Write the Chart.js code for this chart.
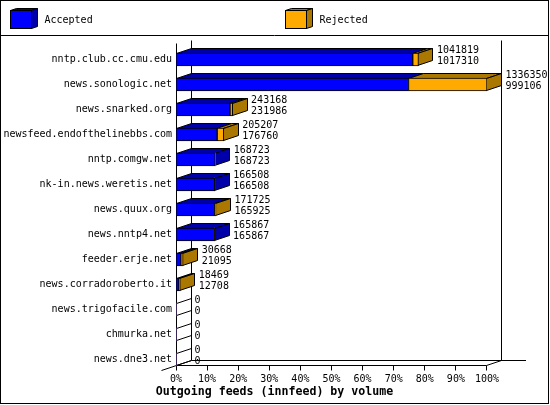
<!DOCTYPE html>
<html><head><meta charset="utf-8">
<script src="https://cdn.jsdelivr.net/npm/chart.js@4"></script>
<style>html,body{margin:0;padding:0;background:#fff}canvas{display:block}</style>
</head><body><canvas id="c" width="550" height="405"></canvas>
<script>
const categories=['nntp.club.cc.cmu.edu','news.sonologic.net','news.snarked.org','newsfeed.endofthelinebbs.com','nntp.comgw.net','nk-in.news.weretis.net','news.quux.org','news.nntp4.net','feeder.erje.net','news.corradoroberto.it','news.trigofacile.com','chmurka.net','news.dne3.net'];
const totals=[1041819,1336350,243168,205207,168723,166508,171725,165867,30668,18469,0,0,0];
const accepted=[1017310,999106,231986,176760,168723,166508,165925,165867,21095,12708,0,0,0];
const rejected=totals.map((t,i)=>t-accepted[i]);
const seriesNames=['Accepted','Rejected'];
const xTickLabels=['0%','10%','20%','30%','40%','50%','60%','70%','80%','90%','100%'];
const titleText='Outgoing feeds (innfeed) by volume';
const C={acc:'#0000ff',accD:'#0000aa',rej:'#ffaa00',rejD:'#aa7700'};
const DX=15,DY=-5;
const MONO='"DejaVu Sans Mono"';
function poly(ctx,pts,fill){ctx.beginPath();pts.forEach((p,i)=>i?ctx.lineTo(p[0],p[1]):ctx.moveTo(p[0],p[1]));ctx.closePath();if(fill){ctx.fillStyle=fill;ctx.fill();}ctx.stroke();}
function line(ctx,a,b,c,d){ctx.beginPath();ctx.moveTo(a,b);ctx.lineTo(c,d);ctx.stroke();}
const frame={id:'frame',beforeDatasetsDraw(chart){
  const ctx=chart.ctx,xs=chart.scales.x;ctx.save();ctx.strokeStyle='#000';ctx.lineWidth=1;
  // outer border and legend
  ctx.strokeRect(0.5,0.5,548,403);line(ctx,0,35.5,549,35.5);
  [[10,C.acc,C.accD,44.5],[285,C.rej,C.rejD,319.5]].forEach((l,i)=>{
    const x=l[0]+.5,y=10.5,w=21,h=18;
    poly(ctx,[[x,y],[x+6,y-2],[x+w+6,y-2],[x+w,y]],l[2]);
    poly(ctx,[[x+w,y],[x+w+6,y-2],[x+w+6,y+h-2],[x+w,y+h]],l[2]);
    ctx.fillStyle=l[1];ctx.fillRect(x,y,w,h);ctx.strokeRect(x,y,w,h);
    ctx.fillStyle='#000';ctx.font='10px '+MONO;ctx.textAlign='left';ctx.textBaseline='middle';ctx.fillText(seriesNames[i],l[3],20);
  });
  // title
  ctx.fillStyle='#000';ctx.font='bold 11.6px '+MONO;ctx.textAlign='center';ctx.textBaseline='middle';ctx.fillText(titleText,274.5,392);
  // 3-D axis frame
  const L=xs.getPixelForValue(0),R=xs.getPixelForValue(xs.max)-1,top=40.5,back=360.5,front=365.5;
  const fl=Math.floor(L)+.5,fr=Math.floor(R)+.5;
  line(ctx,fl+15,top,fl+15,back);
  line(ctx,fr+15,top,fr+15,back);
  line(ctx,fl,top+3,fl,front);
  line(ctx,fl+15,back,526,back);
  line(ctx,fl,front,fr,front);
  line(ctx,fl-15,front+5,fl+15,back);
  line(ctx,fr,front,fr+15,back);
  xs.ticks.forEach((t,i)=>{const p=fl+Math.round((fr-fl)*i/10);line(ctx,p,front,p,front+5);});
  // 3-D faces of each bar, read from the bar elements
  const ma=chart.getDatasetMeta(0).data,mr=chart.getDatasetMeta(1).data;
  categories.forEach((c,i)=>{
    const a=ma[i],r=mr[i],t=Math.round(a.y-a.height/2)+.5,b=t+a.height-1;
    const x0=fl,x1=Math.round(a.x)-.5,x2=Math.max(Math.round(r.x)-.5,x1);
    const ax=Math.max(x1,x0),rx=Math.max(x2,x0);
    if(totals[i]===0){line(ctx,x0,t,x0+DX,t+DY);line(ctx,x0,b,x0+DX,b+DY);return;}
    poly(ctx,[[x0,t],[x0+DX,t+DY],[ax+DX,t+DY],[ax,t]],C.accD);
    if(rejected[i]>0)poly(ctx,[[ax,t],[ax+DX,t+DY],[rx+DX,t+DY],[rx,t]],C.rejD);
    poly(ctx,[[rx,t],[rx+DX,t+DY],[rx+DX,b+DY],[rx,b]],rejected[i]>0?C.rejD:C.accD);
  });
  ctx.restore();
},afterDatasetsDraw(chart){
  const ctx=chart.ctx,ma=chart.getDatasetMeta(0).data,mr=chart.getDatasetMeta(1).data;
  ctx.save();ctx.fillStyle='#000';ctx.font='10px '+MONO;ctx.textAlign='left';ctx.textBaseline='middle';
  categories.forEach((c,i)=>{
    const x=Math.max(mr[i].x,ma[i].x)+DX+3.5,y=ma[i].y;
    ctx.fillText(String(totals[i]),x,y-9);
    ctx.fillText(String(accepted[i]),x,y+2);
  });
  ctx.restore();
}};
new Chart(document.getElementById('c'),{type:'bar',plugins:[frame],data:{labels:categories,datasets:[
  {label:seriesNames[0],data:accepted,backgroundColor:C.acc,borderColor:'#000',borderWidth:ctx=>accepted[ctx.dataIndex]>0?1:0,stack:'s',barThickness:13,borderSkipped:false},
  {label:seriesNames[1],data:rejected,backgroundColor:C.rej,borderColor:'#000',borderWidth:ctx=>rejected[ctx.dataIndex]>0?1:0,stack:'s',barThickness:13,borderSkipped:false}
]},options:{indexAxis:'y',responsive:false,animation:false,events:[],
  layout:{padding:{top:47,right:63,left:0,bottom:20}},
  plugins:{legend:{display:false},tooltip:{enabled:false},title:{display:false}},
  scales:{
    x:{stacked:true,min:0,max:1336350,grid:{display:false,drawTicks:false},border:{display:false},
       afterFit(s){s.height=13;},
       ticks:{stepSize:133635,autoSkip:false,maxRotation:0,padding:1,color:'#000',font:{family:MONO,size:10,lineHeight:1.2},callback:(v,i)=>xTickLabels[i]}},
    y:{stacked:true,grid:{display:false,drawTicks:false},border:{display:false},
       afterFit(s){s.width=176;},
       ticks:{autoSkip:false,padding:4,color:'#000',font:{family:MONO,size:10,lineHeight:1.2}}}
  }}});
</script></body></html>
